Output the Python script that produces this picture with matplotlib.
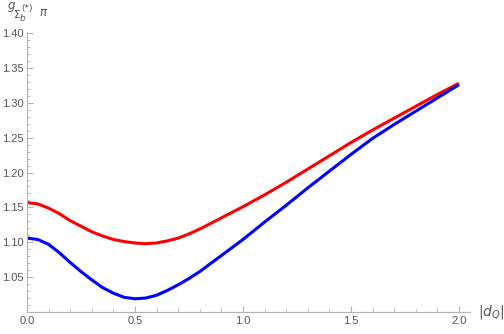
import matplotlib
matplotlib.use("Agg")
import matplotlib.pyplot as plt
from matplotlib.ticker import MultipleLocator

# |d_Q| values and coupling curves
dq = [0.0, 0.05, 0.1, 0.15, 0.2, 0.25, 0.3, 0.35, 0.4, 0.45, 0.5, 0.55, 0.6, 0.65,
      0.7, 0.75, 0.8, 0.9, 1.0, 1.1, 1.2, 1.3, 1.4, 1.5, 1.6, 1.7, 1.8, 1.9, 2.0]
g_red = [1.157, 1.155, 1.149, 1.141, 1.131, 1.123, 1.115, 1.109, 1.104, 1.101, 1.099, 1.098, 1.099, 1.102,
         1.106, 1.112, 1.119, 1.135, 1.151, 1.168, 1.186, 1.205, 1.224, 1.243, 1.261, 1.278, 1.295, 1.312, 1.328]
g_blue = [1.106, 1.104, 1.097, 1.085, 1.071, 1.058, 1.046, 1.035, 1.027, 1.021, 1.019, 1.020, 1.024, 1.031,
          1.039, 1.048, 1.058, 1.081, 1.104, 1.129, 1.153, 1.178, 1.202, 1.226, 1.249, 1.269, 1.288, 1.307, 1.326]

axis_col = "#b3b3b3"
text_col = "#555555"

fig = plt.figure(figsize=(5.04, 3.34), dpi=100)
ax = fig.add_axes([27/504, 1 - 312/334, 443/504, 280.3/334])

ax.plot(dq, g_red, color="#ff0000", lw=2.2, solid_capstyle="butt", solid_joinstyle="round")
ax.plot(dq, g_blue, color="#0000ff", lw=2.2, solid_capstyle="butt", solid_joinstyle="round")

ax.set_xlim(0, 2.051)
ax.set_ylim(1.0, 1.402)

for s in ["top", "right"]:
    ax.spines[s].set_visible(False)
for s in ["left", "bottom"]:
    ax.spines[s].set_color(axis_col)
    ax.spines[s].set_linewidth(0.8)

ax.xaxis.set_minor_locator(MultipleLocator(0.1))
ax.yaxis.set_minor_locator(MultipleLocator(0.01))
ax.set_xticks([0.0, 0.5, 1.0, 1.5, 2.0])
ax.set_xticklabels(["0.0", "0.5", "1.0", "1.5", "2.0"])
yt = [1.05, 1.10, 1.15, 1.20, 1.25, 1.30, 1.35, 1.40]
ax.set_yticks(yt)
ax.set_yticklabels(["%.2f" % v for v in yt])

ax.tick_params(which="major", direction="in", length=4, width=0.8, color=axis_col,
               labelcolor=text_col, labelsize=8, pad=3)
ax.tick_params(axis="y", which="major", pad=2.5)
ax.tick_params(which="minor", direction="in", length=2.2, width=0.6, color=axis_col)
for lab in ax.get_xticklabels() + ax.get_yticklabels():
    lab.set_family("Liberation Sans")

ax.text(1.018, 0.0, r"$|d_Q|$", transform=ax.transAxes, ha="left", va="center",
        color=text_col, fontsize=10)

# y-axis label built from pieces, positions in pixels from the top-left corner
def px(x, y, s, size, style="normal"):
    fig.text(x/504, 1 - y/334, s, ha="left", va="baseline", color=text_col,
             fontsize=size, style=style, family="DejaVu Sans")

px(8, 9.5, "g", 8.5, "italic")
px(14, 18, "\u03a3", 7.5)
px(20, 21, "b", 6.5, "italic")
px(21, 11, "(*)", 6.5)
px(39, 16, "\u03c0", 8.5, "italic")

fig.savefig("out.png", dpi=100)
